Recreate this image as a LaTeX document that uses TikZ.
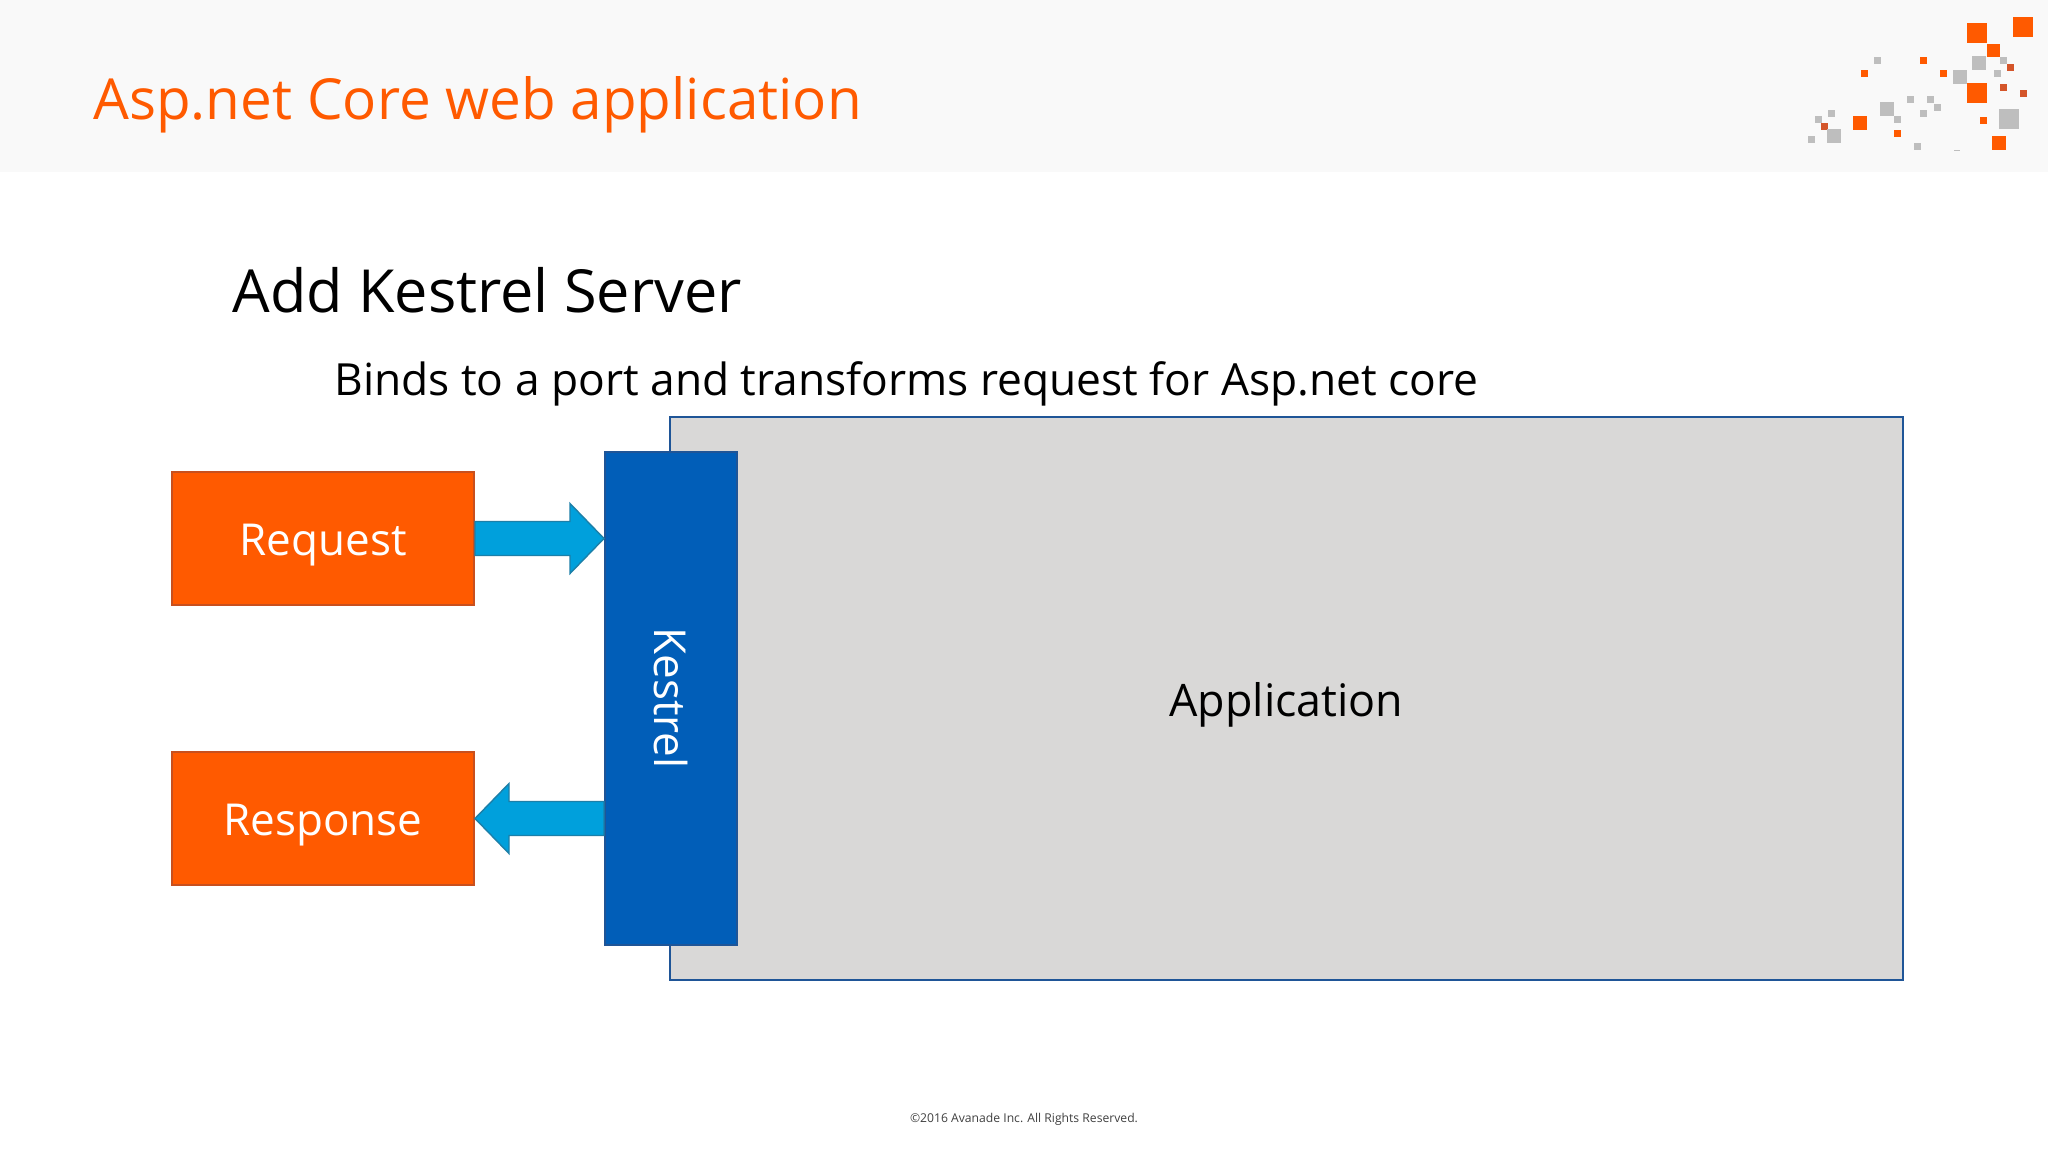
\documentclass[tikz,border=0pt]{standalone}
\usepackage{fontspec}
\setmainfont{Open Sans}
\usetikzlibrary{calc}

\definecolor{avorange}{HTML}{FF5A00}
\definecolor{avedge}{HTML}{C8501E}
\definecolor{avred}{HTML}{D4552A}
\definecolor{avgrey}{HTML}{BEBEBE}
\definecolor{bandgrey}{HTML}{F9F9F9}
\definecolor{appgrey}{HTML}{D9D8D7}
\definecolor{navy}{HTML}{1F5597}
\definecolor{kestrelblue}{HTML}{015EB8}
\definecolor{flowblue}{HTML}{00A0DC}
\definecolor{flowedge}{HTML}{1C7FA8}

\def\unitpx{0.5pt}

\begin{document}
\begin{tikzpicture}[x=\unitpx,y=-\unitpx]
  \tikzstyle{label}=[inner sep=0pt,anchor=base west]
  \tikzstyle{box}=[rectangle,inner sep=0pt,line width=1pt,text height=15.5pt,text depth=0pt,font=\fontsize{22}{26}\selectfont]
  \tikzstyle{message}=[box,fill=avorange,draw=avedge,text=white,text height=17pt,minimum width=302*\unitpx,minimum height=133*\unitpx]
  \tikzstyle{flow}=[draw=flowedge,fill=flowblue,line width=0.7pt,to path={
    ($(\tikztostart)+(0,-17)$) -- ($(\tikztotarget)+(-#1*34,-17)$) -- ($(\tikztotarget)+(-#1*34,-35)$)
    -- (\tikztotarget) -- ($(\tikztotarget)+(-#1*34,35)$) -- ($(\tikztotarget)+(-#1*34,17)$)
    -- ($(\tikztostart)+(0,17)$) -- cycle}]

  \useasboundingbox (0,0) rectangle (2048,1152);

  % Draw the header band
  \fill[white] (0,0) rectangle (2048,1152);
  \fill[bandgrey] (0,0) rectangle (2048,172);

  % Draw the logo squares
  \foreach \x / \y / \s in {1977/33/20,2023/27/20,1977/93/20,1993/50/13,1860/123/14,1999/143/14,
    1983/120/7,1897/133/7,1923/60/7,1864/73/7,1943/73/7}
  \fill[avorange] (\x-\s/2,\y-\s/2) rectangle (\x+\s/2,\y+\s/2);
  \foreach \x / \y in {2010/67,2003/87,2023/93,1824/126}
  \fill[avred] (\x-3.5,\y-3.5) rectangle (\x+3.5,\y+3.5);
  \foreach \x / \y / \s in {2009/119/20,1887/109/14,1834/136/14,1979/63/14,1960/77/14,
    1877/60/7,1831/113/7,1818/119/7,1811/139/7,1910/99/7,1930/99/7,1937/107/7,1923/113/7,
    1897/119/7,1917/146/7,2003/60/7,1997/73/7}
  \fill[avgrey] (\x-\s/2,\y-\s/2) rectangle (\x+\s/2,\y+\s/2);
  \fill[avgrey] (1954,149.5) rectangle (1960,150.5);

  % Draw the titles
  \node[label,text=avorange,font=\fontsize{28.3}{34}\selectfont] (title) at (93,119) {Asp.net Core web application};
  \node[label,text=black,font=\fontsize{29.7}{36}\selectfont] (heading) at (232,312) {Add Kestrel Server};
  \node[label,text=black,font=\fontsize{22.15}{28}\selectfont] (subheading) at (334,395) {Binds to a port and transforms request for Asp.net core};

  % Draw the boxes
  \node[box,fill=appgrey,draw=navy,minimum width=1233*\unitpx,minimum height=563*\unitpx,font=\fontsize{22.4}{26}\selectfont] (application) at (1286.5,698.5) {\raisebox{-1pt}{Application}};
  \node[box,fill=kestrelblue,draw=navy,minimum width=132*\unitpx,minimum height=493*\unitpx] (kestrel) at (671,698) {};
  \node[inner sep=0pt,rotate=270,text=white,font=\fontsize{22}{26}\selectfont] (kestrellabel) at (kestrel.center) {Kestrel};
  \node[message] (request) at (323,538.5) {Request};
  \node[message] (response) at (323,818.5) {Response};

  % Connect the boxes
  \path[flow=1] (request.east) to (request.east -| kestrel.west);
  \path[flow=-1] (response.east -| kestrel.west) to (response.east);

  % Draw the footer
  \node[text=black!75,inner sep=0pt,font=\fontsize{6.08}{8}\selectfont] (footer) at (1024,1119) {©2016 Avanade Inc. All Rights Reserved.};
\end{tikzpicture}
\end{document}
